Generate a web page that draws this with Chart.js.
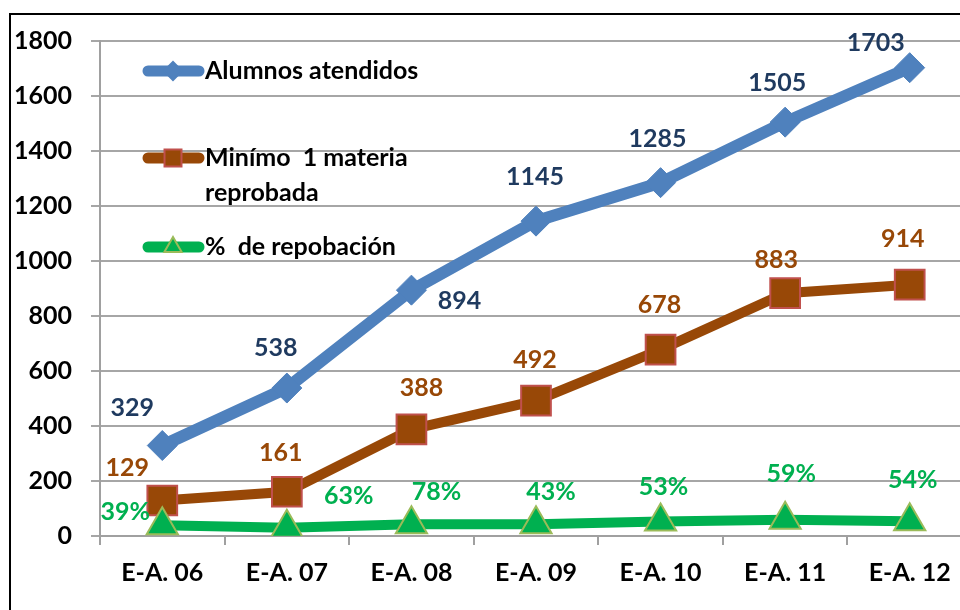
<!DOCTYPE html>
<html>
<head>
<meta charset="utf-8">
<script src="https://cdn.jsdelivr.net/npm/chart.js@4.4.0/dist/chart.umd.min.js"></script>
<style>
  body { margin: 0; background: #fff; overflow: hidden; width: 960px; height: 610px; position: relative; }
  #frame { position: absolute; left: 9px; top: 13px; width: 1000px; height: 700px; border: 2px solid #000; box-sizing: border-box; }
  #wrap { position: absolute; left: 0; top: 0; width: 995px; height: 610px; }
</style>
</head>
<body>
<div id="frame"></div>
<div id="wrap"><canvas id="chart"></canvas></div>
<script>
const CATEGORIES = ['E-A. 06', 'E-A. 07', 'E-A. 08', 'E-A. 09', 'E-A. 10', 'E-A. 11', 'E-A. 12'];
const ALUMNOS = [329, 538, 894, 1145, 1285, 1505, 1703];
const REPROBADOS = [129, 161, 388, 492, 678, 883, 914];
const PORCENTAJE = [39, 30, 43, 43, 53, 59, 54];
// texts shown next to the green points (as printed in the original)
const PORCENTAJE_TXT = ['39%', '63%', '78%', '43%', '53%', '59%', '54%'];
const Y_MIN = 0, Y_MAX = 1800, Y_STEP = 200;

const BLUE = '#4F81BD', BROWN = '#984807', GREEN = '#00B050';
const FONT_SIZE = 25;

Chart.defaults.font = { family: 'Lato', weight: 'bold', size: FONT_SIZE };
Chart.defaults.color = '#000';

// label offsets from each point (px)
const OFFSETS = [
    [[-30, -38], [-11, -40], [48, 11], [-1, -44], [-3, -44], [-8, -39], [-34, -25]],
    [[-35, -33], [-6, -39], [10, -41], [-1, -41], [-1, -45], [-9, -33], [-7, -46]],
    [[-37, -13], [62, -32], [25, -32], [15, -32], [3, -34], [6, -46], [3, -41]]
];
const LABEL_COLORS = ['#1F3A5F', '#984807', '#00B050'];

const pointLabels = {
    id: 'pointLabels',
    afterDatasetsDraw(chart) {
        const ctx = chart.ctx;
        ctx.save();
        ctx.font = `bold ${FONT_SIZE}px Lato`;
        ctx.textAlign = 'center';
        ctx.textBaseline = 'middle';
        chart.data.datasets.forEach((ds, di) => {
            const meta = chart.getDatasetMeta(di);
            ctx.fillStyle = LABEL_COLORS[di];
            meta.data.forEach((pt, i) => {
                const txt = ds.labelTexts ? ds.labelTexts[i] : String(ds.data[i]);
                ctx.fillText(txt, pt.x + OFFSETS[di][i][0], pt.y + OFFSETS[di][i][1]);
            });
        });
        ctx.restore();
    }
};

const customLegend = {
    id: 'customLegend',
    afterDraw(chart) {
        const ctx = chart.ctx;
        const rows = [
            { y: 71, lines: ['Alumnos atendidos'], color: BLUE, style: 'rectRot', r: 9, border: BLUE },
            { y: 158, lines: ['Minímo  1 materia', 'reprobada'], color: BROWN, style: 'rect', r: 12, border: '#C0504D' },
            { y: 247, lines: ['%  de repobación'], color: GREEN, style: 'triangle', r: 10, border: '#9BBB59' }
        ];
        ctx.save();
        rows.forEach(row => {
            ctx.strokeStyle = row.color;
            ctx.lineWidth = 11;
            ctx.lineCap = 'round';
            ctx.beginPath();
            ctx.moveTo(148, row.y);
            ctx.lineTo(199, row.y);
            ctx.stroke();
            ctx.fillStyle = row.color;
            ctx.strokeStyle = row.border;
            ctx.lineWidth = 2;
            Chart.helpers.drawPoint(ctx, { pointStyle: row.style, radius: row.r, rotation: 0, borderWidth: 2 }, 173, row.y);
            ctx.fillStyle = '#000';
            ctx.font = `bold ${FONT_SIZE}px Lato`;
            ctx.textAlign = 'left';
            ctx.textBaseline = 'middle';
            row.lines.forEach((t, k) => ctx.fillText(t, 205, row.y + k * 35));
        });
        ctx.restore();
    }
};

new Chart(document.getElementById('chart'), {
    type: 'line',
    data: {
        labels: CATEGORIES,
        datasets: [
            {
                label: 'Alumnos atendidos', data: ALUMNOS, order: 2,
                borderColor: BLUE, borderWidth: 12, backgroundColor: BLUE,
                pointStyle: 'rectRot', pointRadius: 15, pointBorderColor: BLUE, pointBackgroundColor: BLUE, pointBorderWidth: 1,
                tension: 0
            },
            {
                label: 'Minímo  1 materia reprobada', data: REPROBADOS, order: 1,
                borderColor: BROWN, borderWidth: 10, backgroundColor: BROWN,
                pointStyle: 'rect', pointRadius: 21, pointBorderColor: '#C0504D', pointBackgroundColor: BROWN, pointBorderWidth: 2,
                tension: 0
            },
            {
                label: '%  de repobación', data: PORCENTAJE, order: 0, labelTexts: PORCENTAJE_TXT,
                borderColor: GREEN, borderWidth: 10, backgroundColor: GREEN,
                pointStyle: 'triangle', pointRadius: 18, pointBorderColor: '#9BBB59', pointBackgroundColor: GREEN, pointBorderWidth: 2,
                tension: 0
            }
        ]
    },
    options: {
        responsive: true,
        maintainAspectRatio: false,
        animation: false,
        layout: { padding: { top: 41, right: 10, left: 0, bottom: 0 } },
        plugins: { legend: { display: false }, tooltip: { enabled: false } },
        scales: {
            x: {
                offset: true,
                grid: { offset: true, drawOnChartArea: false, drawTicks: true, tickLength: 9, color: '#A0A0A0', lineWidth: 2 },
                border: { color: '#A0A0A0', width: 2 },
                ticks: { padding: 13, color: '#000' },
                afterFit: s => { s.height = 74; }
            },
            y: {
                min: Y_MIN, max: Y_MAX,
                grid: { color: '#A6A6A6', lineWidth: 2, tickLength: 9 },
                border: { color: '#A0A0A0', width: 2 },
                ticks: { stepSize: Y_STEP, padding: 19, color: '#000', callback: v => String(v) },
                afterFit: s => { s.width = 100; }
            }
        }
    },
    plugins: [pointLabels, customLegend]
});
</script>
</body>
</html>
